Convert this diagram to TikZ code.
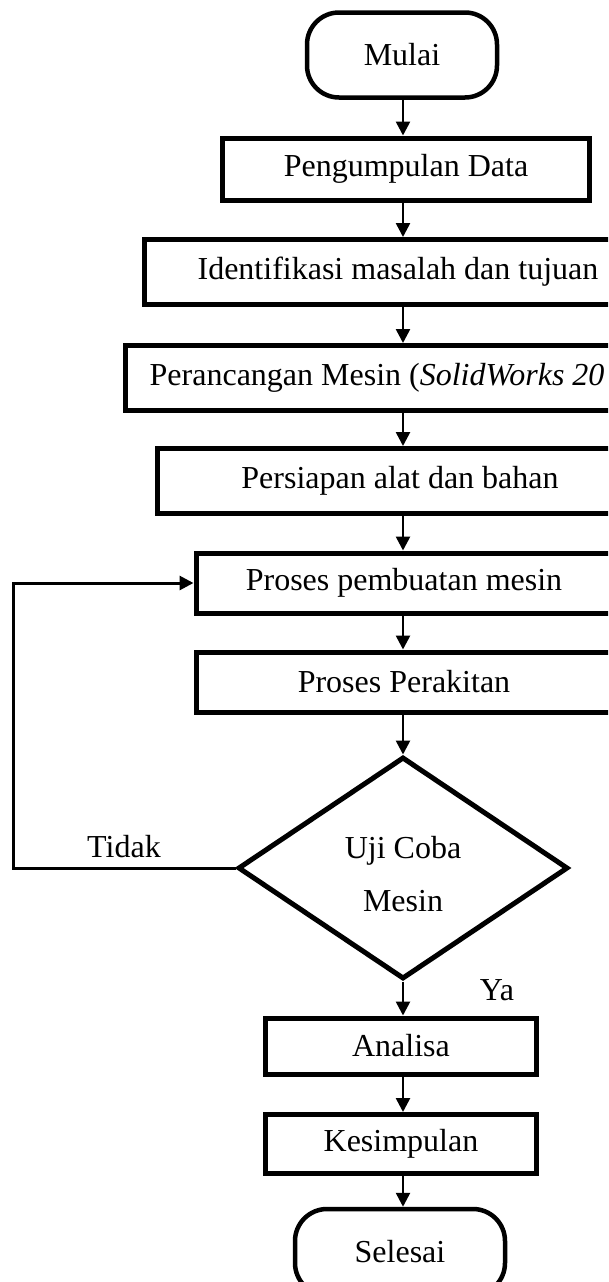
\documentclass[tikz,border=0pt]{standalone}
\usepackage{fontspec}
\setmainfont{Liberation Serif}
\usetikzlibrary{shapes.geometric, arrows.meta}

\begin{document}
\begin{tikzpicture}[x=1pt, y=-1pt,
    font=\fontsize{32}{38}\selectfont,
    box/.style={draw, fill=white, line width=5pt, rectangle, inner sep=0pt},
    ends/.style={draw, fill=white, line width=4.5pt, rectangle, rounded corners=32pt,
      minimum width=190pt, minimum height=85pt},
    cek/.style={draw, fill=white, line width=5pt, diamond, inner sep=0pt,
      minimum width=330pt, minimum height=222pt, align=center,
      font=\fontsize{32}{53}\selectfont},
    >={Triangle[length=14pt, width=14pt]},
    every edge/.style={draw, line width=2.6pt}]
    \useasboundingbox (0, 0) rectangle (608, 1282);
    \fill[white] (0, 0) rectangle (608, 1282);
    \clip (0, 0) rectangle (608, 1282);

    \coordinate (ax) at (403, 0);
    \coordinate (balik) at (13, 868);

    \node[ends] (mulai) at (402, 55) {Mulai};
    \node[box, minimum width=367pt, minimum height=62pt] (data) at (406, 169) {Pengumpulan Data};
    \node[box, minimum width=508pt, minimum height=65pt] (ident) at (398, 272) {Identifikasi masalah dan tujuan};
    \node[box, minimum width=560pt, minimum height=65pt] (rancang) at (405, 378) {};
    \node[anchor=west, inner sep=0pt] (rancangtxt) at ([xshift=27pt]rancang.west)
      {Perancangan Mesin (\textit{SolidWorks 20}};
    \node[box, minimum width=486pt, minimum height=65pt] (siap) at (400, 481) {Persiapan alat dan bahan};
    \node[box, minimum width=416pt, minimum height=60pt] (buat) at (404, 583) {Proses pembuatan mesin};
    \node[box, minimum width=416pt, minimum height=60pt] (rakit) at (404, 682) {Proses Perakitan};
    \node[cek] (uji) at (403, 868) {\rule{0pt}{34pt}Uji Coba\\Mesin};
    \node[box, minimum width=271pt, minimum height=56pt] (analisa) at (401, 1046) {Analisa};
    \node[box, minimum width=271pt, minimum height=59pt] (simpul) at (401, 1144) {Kesimpulan};
    \node[ends, minimum width=210pt, minimum height=86pt] (selesai) at (400, 1252) {Selesai};

    \node (tidak) at (124, 847) {Tidak};
    \node (ya) at (497, 990) {Ya};

    \path[->] (mulai.south -| ax) edge (data.north -| ax);
    \path[->] (data.south -| ax) edge (ident.north -| ax);
    \path[->] (ident.south -| ax) edge (rancang.north -| ax);
    \path[->] (rancang.south -| ax) edge (siap.north -| ax);
    \path[->] (siap.south -| ax) edge (buat.north -| ax);
    \path[->] (buat.south -| ax) edge (rakit.north -| ax);
    \path[->] (rakit.south -| ax) edge (uji.north);
    \path[->] (uji.south) edge (analisa.north -| ax);
    \path[->] (analisa.south -| ax) edge (simpul.north -| ax);
    \path[->] (simpul.south -| ax) edge (selesai.north -| ax);

    \draw[->, line width=3pt] (uji.west) -- (balik) |- (buat.west);
  \end{tikzpicture}
\end{document}
